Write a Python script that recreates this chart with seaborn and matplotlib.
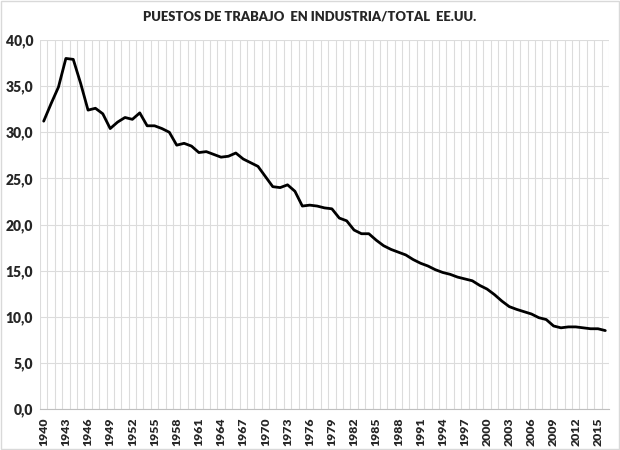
import numpy as np
import pandas as pd
import matplotlib
matplotlib.use("Agg")
import matplotlib.pyplot as plt
import seaborn as sns
from matplotlib.ticker import FixedLocator, FuncFormatter

years = list(range(1940, 2017))
share = [31.2, 33.1, 34.9, 38.0, 37.9, 35.3, 32.4, 32.6, 32.0, 30.4,
         31.1, 31.6, 31.4, 32.1, 30.7, 30.7, 30.4, 30.0, 28.6, 28.8,
         28.5, 27.8, 27.9, 27.6, 27.3, 27.4, 27.75, 27.1, 26.7, 26.3,
         25.2, 24.1, 24.0, 24.3, 23.6, 22.0, 22.1, 22.0, 21.8, 21.7,
         20.7, 20.4, 19.4, 19.0, 19.0, 18.3, 17.7, 17.3, 17.0, 16.7,
         16.2, 15.8, 15.5, 15.1, 14.8, 14.6, 14.3, 14.1, 13.9, 13.4,
         13.0, 12.4, 11.7, 11.1, 10.8, 10.55, 10.3, 9.9, 9.7, 9.0,
         8.8, 8.9, 8.9, 8.8, 8.7, 8.7, 8.5]
tick_years = list(range(1940, 2017, 3))
y_ticks = [0, 5, 10, 15, 20, 25, 30, 35, 40]
title = "PUESTOS DE TRABAJO  EN INDUSTRIA/TOTAL  EE.UU."

df = pd.DataFrame({"year": years, "share": share})

sns.set_theme(style="white")
plt.rcParams['font.family'] = ['Lato', 'DejaVu Sans']

fig = plt.figure(figsize=(6.2, 4.5), dpi=100)
ax = fig.add_axes([40/620, 1-409/450, (609-40)/620, (409-40)/450])

sns.lineplot(data=df, x="year", y="share", ax=ax, color="black", linewidth=2.0)

ax.set_xlim(1939.5, 2016.5)
ax.set_ylim(0, 40)
ax.yaxis.set_major_locator(FixedLocator(y_ticks))
ax.yaxis.set_major_formatter(FuncFormatter(lambda v, p: f"{v:.1f}".replace(".", ",")))
ax.xaxis.set_major_locator(FixedLocator(tick_years))
ax.xaxis.set_minor_locator(FixedLocator([y - 0.5 for y in years] + [2016.5]))
ax.set_xticklabels([str(t) for t in tick_years], rotation=90, fontweight="heavy", fontsize=8.8)
for lab in ax.get_yticklabels():
    lab.set_fontweight("heavy")
    lab.set_fontsize(10)

ax.grid(which="minor", axis="x", color="#dcdcdc", linewidth=0.8)
ax.grid(which="major", axis="y", color="#dcdcdc", linewidth=0.8)
ax.grid(which="major", axis="x", visible=False)
ax.set_axisbelow(True)
ax.tick_params(axis="x", which="both", length=0, pad=6)
ax.tick_params(axis="y", which="both", length=0, pad=5)
for s in ["left", "right", "top"]:
    ax.spines[s].set_visible(False)
ax.spines["bottom"].set_color("#bfbfbf")
ax.spines["bottom"].set_linewidth(0.8)
ax.set_xlabel("")
ax.set_ylabel("")

fig.text(0.5, 1-16.5/450, title, ha="center", va="center", fontsize=9.4, fontweight="heavy")

border = plt.Rectangle((0.002, 0.002), 0.996, 0.996, transform=fig.transFigure,
                       fill=False, edgecolor="#d9d9d9", linewidth=1)
fig.patches.append(border)

fig.savefig("out.png", dpi=100)
